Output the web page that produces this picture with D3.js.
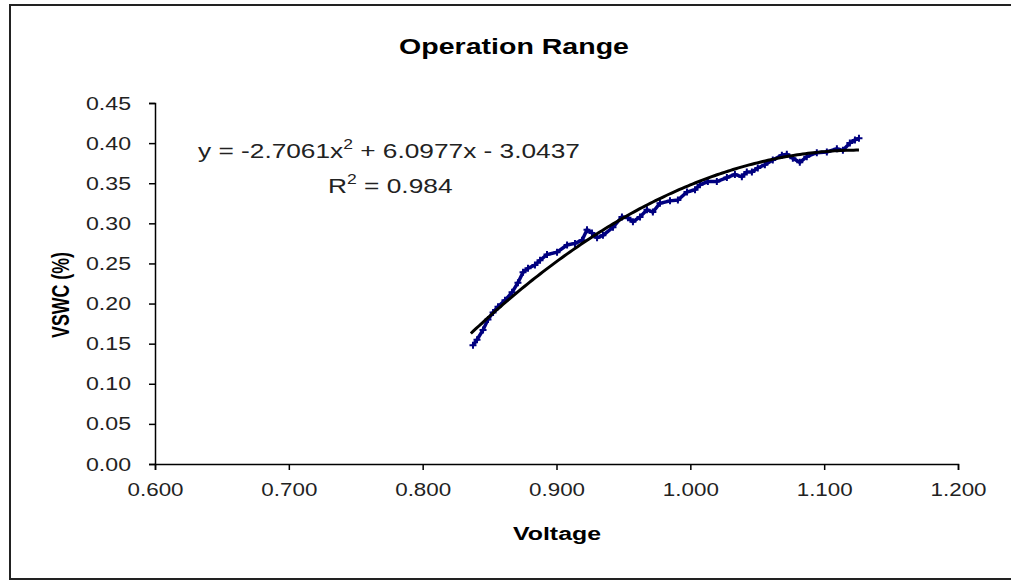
<!DOCTYPE html>
<html>
<head>
<meta charset="utf-8">
<script src="https://cdn.jsdelivr.net/npm/d3@7"></script>
<style>
  body { margin: 0; background: #fff; }
  text { font-family: Arial, "Liberation Sans", sans-serif; fill: #000; }
</style>
</head>
<body>
<div id="chart"></div>
<script>
// measured readings (voltage, VSWC)
var voltage = [0.8376, 0.8406, 0.8451, 0.8488, 0.8526, 0.8563, 0.8615, 0.8668, 0.8712, 0.8750,
               0.8787, 0.8839, 0.8877, 0.8929, 0.9004, 0.9079, 0.9138, 0.9191, 0.9228, 0.9265,
               0.9303, 0.9347, 0.9422, 0.9489, 0.9534, 0.9571, 0.9624, 0.9676, 0.9720, 0.9773,
               0.9848, 0.9907, 0.9975, 1.0035, 1.0072, 1.0131, 1.0198, 1.0273, 1.0333, 1.0385,
               1.0422, 1.0460, 1.0504, 1.0557, 1.0616, 1.0684, 1.0721, 1.0766, 1.0818, 1.0870,
               1.0945, 1.1020, 1.1095, 1.1140, 1.1192, 1.1230, 1.1260];
var vswc = [0.148, 0.155, 0.167, 0.180, 0.189, 0.196, 0.204, 0.214, 0.226, 0.239,
            0.244, 0.248, 0.254, 0.261, 0.264, 0.273, 0.275, 0.279, 0.292, 0.288,
            0.282, 0.285, 0.295, 0.308, 0.307, 0.302, 0.308, 0.317, 0.314, 0.325,
            0.328, 0.329, 0.339, 0.342, 0.348, 0.352, 0.352, 0.357, 0.361, 0.358,
            0.364, 0.364, 0.369, 0.373, 0.379, 0.385, 0.386, 0.381, 0.376, 0.383,
            0.388, 0.389, 0.393, 0.391, 0.400, 0.404, 0.406];

// polynomial trendline coefficients (a x^2 + b x + c)
var trendCoef = [-2.7061, 6.0977, -3.0437];
var trendRange = [0.836, 1.126];

var xTicks = [0.6, 0.7, 0.8, 0.9, 1.0, 1.1, 1.2];
var yTicks = [0, 0.05, 0.10, 0.15, 0.20, 0.25, 0.30, 0.35, 0.40, 0.45];

var width = 1011;
var height = 581;

var svg = d3.select('#chart').append('svg')
    .attr('width', width)
    .attr('height', height);

// the original text is drawn a bit wider than normal Arial, so stretch to a measured width
function stretchTo(g, px, py, w) {
    var bw = g.node().getBBox().width;
    g.attr('transform', 'translate(' + px + ',' + py + ') scale(' + (w / bw) + ',1)');
}

// chart area border (runs off the right edge like the original)
svg.append('rect')
    .attr('x', 10)
    .attr('y', 5)
    .attr('width', 1020)
    .attr('height', 574)
    .style('fill', 'none')
    .style('stroke', '#222')
    .style('stroke-width', 2);

var x = d3.scaleLinear().domain([0.6, 1.2]).range([155, 958]);
var y = d3.scaleLinear().domain([0, 0.45]).range([464, 103]);

// axes
var xAxis = svg.append('g')
    .attr('transform', 'translate(0,464)')
    .call(d3.axisBottom(x).tickValues(xTicks).tickSize(6).tickPadding(13)
        .tickFormat(d3.format('.3f')));
var yAxis = svg.append('g')
    .attr('transform', 'translate(155,0)')
    .call(d3.axisLeft(y).tickValues(yTicks).tickSize(6).tickPadding(18)
        .tickFormat(d3.format('.2f')));

[xAxis, yAxis].forEach(function(g) {
    g.select('.domain').style('stroke', '#000').style('stroke-width', 1.5);
    g.selectAll('.tick line').style('stroke', '#000').style('stroke-width', 1.5);
    g.selectAll('.tick text')
        .style('font-family', 'Arial, "Liberation Sans", sans-serif')
        .style('font-size', '19px')
        .style('fill', '#222')
        .attr('textLength', g === xAxis ? 56 : 45)
        .attr('lengthAdjust', 'spacingAndGlyphs');
});

// data markers (dense plus signs)
var pts = voltage.map(function(v, i) { return [v, vswc[i]]; });

svg.append('path')
    .datum(pts)
    .attr('d', d3.line().x(function(d) { return x(d[0]); }).y(function(d) { return y(d[1]); }))
    .style('fill', 'none')
    .style('stroke', '#000080')
    .style('stroke-width', 3.5);

svg.selectAll('.pt')
    .data(pts)
    .enter()
    .append('path')
    .attr('class', 'pt')
    .attr('transform', function(d) { return 'translate(' + x(d[0]) + ',' + y(d[1]) + ')'; })
    .attr('d', 'M-3.5,0H3.5M0,-3.5V3.5')
    .style('stroke', '#000080')
    .style('stroke-width', 2);

// trendline
var trendXs = d3.range(trendRange[0], trendRange[1] + 0.0001, 0.002);
svg.append('path')
    .datum(trendXs)
    .attr('d', d3.line()
        .x(function(d) { return x(d); })
        .y(function(d) { return y(trendCoef[0] * d * d + trendCoef[1] * d + trendCoef[2]); }))
    .style('fill', 'none')
    .style('stroke', '#000')
    .style('stroke-width', 3);

// title
var title = svg.append('g');
title.append('text')
    .attr('text-anchor', 'middle')
    .style('font-size', '22px')
    .style('font-weight', 'bold')
    .text('Operation Range');
stretchTo(title, 514, 54, 230);

// trendline equation
var eqG = svg.append('g');
var eq = eqG.append('text')
    .style('font-size', '21px')
    .style('fill', '#222');
eq.append('tspan').text('y = -2.7061x');
eq.append('tspan').attr('dy', -9).style('font-size', '14px').text('2');
eq.append('tspan').attr('dy', 9).text(' + 6.0977x - 3.0437');
stretchTo(eqG, 198, 158, 382);

var r2G = svg.append('g');
var r2 = r2G.append('text')
    .style('font-size', '21px')
    .style('fill', '#222');
r2.append('tspan').text('R');
r2.append('tspan').attr('dy', -9).style('font-size', '14px').text('2');
r2.append('tspan').attr('dy', 9).text(' = 0.984');
stretchTo(r2G, 328, 193, 125);

// axis titles
var xTitle = svg.append('g');
xTitle.append('text')
    .attr('text-anchor', 'middle')
    .style('font-size', '19px')
    .style('font-weight', 'bold')
    .text('Voltage');
stretchTo(xTitle, 557, 540, 88);

svg.append('text')
    .attr('transform', 'translate(69,295) scale(1.2,1) rotate(-90)')
    .attr('text-anchor', 'middle')
    .attr('textLength', 86)
    .attr('lengthAdjust', 'spacingAndGlyphs')
    .style('font-size', '20px')
    .style('font-weight', 'bold')
    .text('VSWC (%)');
</script>
</body>
</html>
